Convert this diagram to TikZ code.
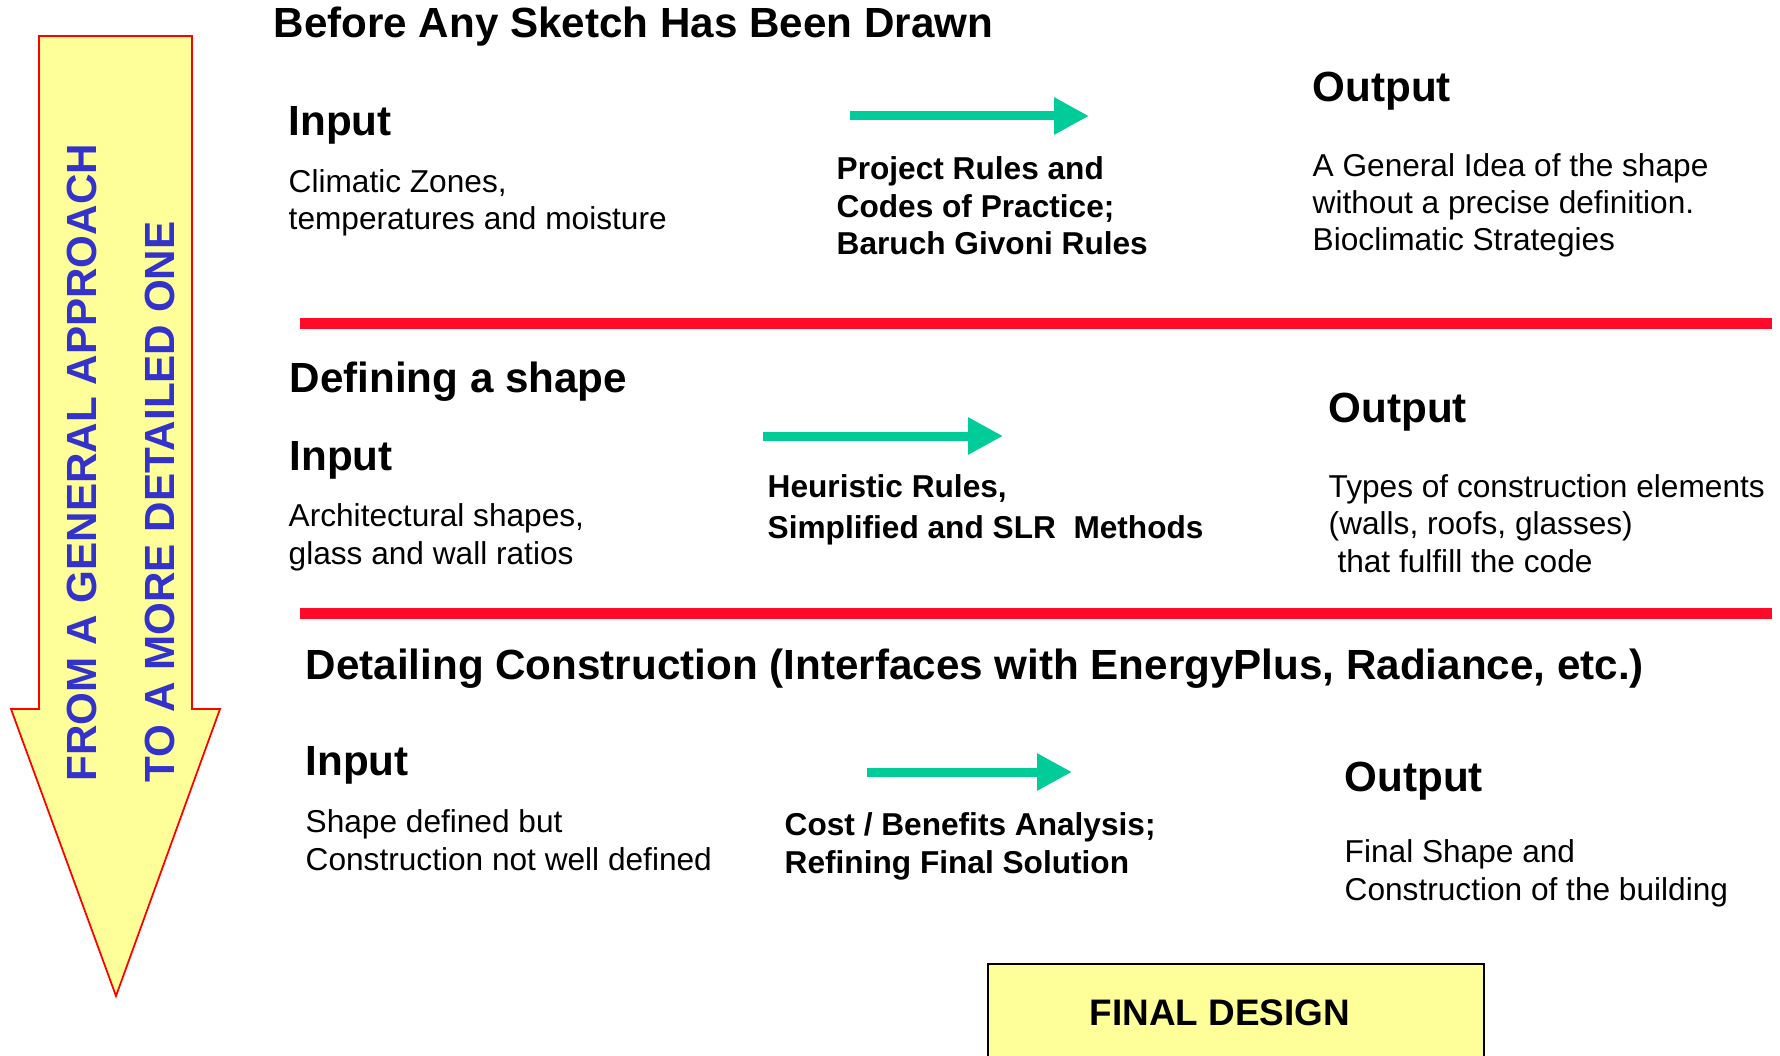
\documentclass[tikz,border=0pt]{standalone}
\usepackage{fontspec}
\setmainfont{Liberation Sans}
\usepackage{tikz}
\usetikzlibrary{arrows.meta,positioning}

\definecolor{flowgreen}{RGB}{0,204,153}
\definecolor{divred}{RGB}{255,10,40}
\definecolor{sideblue}{RGB}{51,51,204}
\definecolor{paleyellow}{RGB}{255,255,153}

\begin{document}
\begin{tikzpicture}[x=0.1mm, y=-0.1mm,
    head/.style={anchor=base west, inner sep=0pt, font=\fontsize{12}{14}\selectfont\bfseries},
    body/.style={anchor=base west, inner sep=0pt, align=left, font=\fontsize{9}{10.6}\selectfont},
    rules/.style={body, font=\fontsize{9}{10.7}\selectfont\bfseries},
    side/.style={anchor=base west, inner sep=0pt, rotate=90, text=sideblue, font=\fontsize{12}{14}\selectfont\bfseries},
    flow/.style={draw=flowgreen, line width=0.9mm, -{Triangle[length=3.5mm,width=3.5mm]}},
    divider/.style={draw=divred, line width=1.1mm}]
    \useasboundingbox (0,0) rectangle (1780,1056);

    % big arrow on the left
    \filldraw[fill=paleyellow, draw=red, line width=0.5pt]
        (39,36) -- (192,36) -- (192,709) -- (220,709) -- (116,996)
        -- (11,709) -- (39,709) -- cycle;
    \node[side] (general) at (96,782) {FROM A GENERAL APPROACH};
    \node[side] (detailed) at (174,783) {TO A MORE DETAILED ONE};

    % before any sketch (multi-line texts sit on their last line)
    \node[head] (sketch) at (273,38) {Before Any Sketch Has Been Drawn};
    \node[head] (in1) at (288,136) {Input};
    \node[body] (climate) at (288,230) {Climatic Zones,\\temperatures and moisture};
    \coordinate (f1a) at (850,116);
    \coordinate (f1b) at (1089,116);
    \draw[flow] (f1a) -- (f1b);
    \node[rules] (project) at (836,255) {Project Rules and\\Codes of Practice;\\Baruch Givoni Rules};
    \node[head] (out1) at (1312,102) {Output};
    \node[body] (idea) at (1312,251) {A General Idea of the shape\\without a precise definition.\\Bioclimatic Strategies};

    \coordinate (d1a) at (300,324);
    \coordinate (d1b) at (1772,324);
    \draw[divider] (d1a) -- (d1b);

    % defining a shape
    \node[head] (shape) at (289,393) {Defining a shape};
    \node[head] (in2) at (289,470) {Input};
    \node[body] (arch) at (288,564) {Architectural shapes,\\glass and wall ratios};
    \coordinate (f2a) at (763,436);
    \coordinate (f2b) at (1003,436);
    \draw[flow] (f2a) -- (f2b);
    \node[rules] (heuristic) at (767,538) {Heuristic Rules,\\[0.8pt]Simplified and SLR\ \ Methods};
    \node[head] (out2) at (1328,423) {Output};
    \node[body] (types) at (1328,572) {Types of construction elements\\(walls, roofs, glasses)\\\ that fulfill the code};

    \coordinate (d2a) at (300,613);
    \coordinate (d2b) at (1772,613);
    \draw[divider] (d2a) -- (d2b);

    % detailing construction
    \node[head] (detail) at (305,679) {Detailing Construction (Interfaces with EnergyPlus, Radiance, etc.)};
    \node[head] (in3) at (305,775) {Input};
    \node[body] (defined) at (305,870) {Shape defined but\\Construction not well defined};
    \coordinate (f3a) at (867,772);
    \coordinate (f3b) at (1072,772);
    \draw[flow] (f3a) -- (f3b);
    \node[rules] (cost) at (784,873) {Cost / Benefits Analysis;\\Refining Final Solution};
    \node[head] (out3) at (1344,791) {Output};
    \node[body] (final shape) at (1344,900) {Final Shape and\\Construction of the building};

    \filldraw[fill=paleyellow, draw=black, line width=0.6pt] (988,964) rectangle (1484,1070);
    \node[anchor=base west, inner sep=0pt, font=\fontsize{10.5}{12}\selectfont\bfseries] (design) at (1089,1025) {FINAL DESIGN};
\end{tikzpicture}
\end{document}
